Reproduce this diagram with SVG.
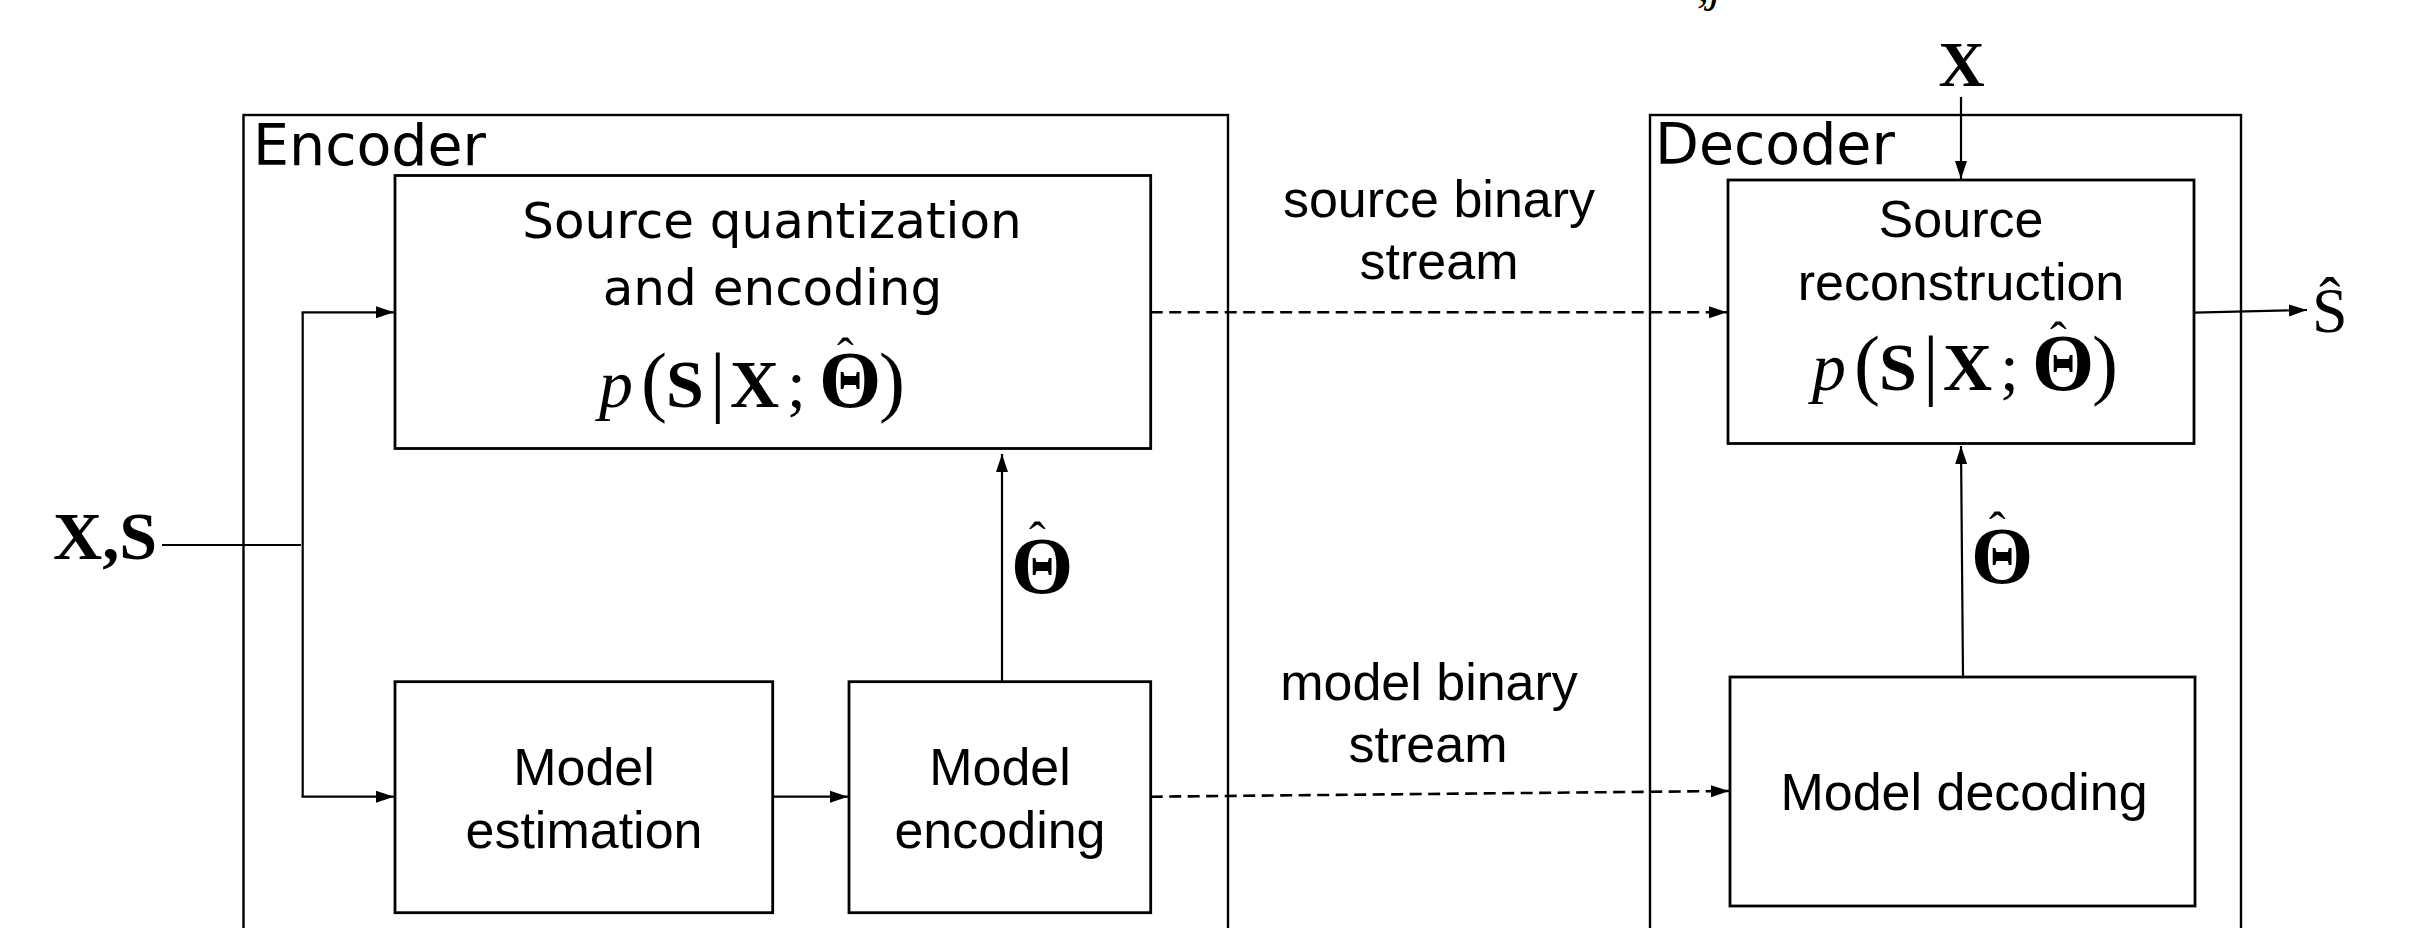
<svg xmlns="http://www.w3.org/2000/svg" width="2411" height="928" viewBox="0 0 2411 928">
  <style>
    .frame { fill: none; stroke: #000; stroke-width: 2.4; }
    .block { fill: #fff; stroke: #000; stroke-width: 2.8; }
    .wire { fill: none; stroke: #000; stroke-width: 2.2; }
    .dash { fill: none; stroke: #000; stroke-width: 2.6; stroke-dasharray: 12 6.5; }
    .title { font-family: "DejaVu Sans", sans-serif; font-size: 57px; fill: #000; }
    .dv { font-family: "DejaVu Sans", sans-serif; font-size: 50px; fill: #000; text-anchor: middle; }
    .lbl { font-family: "Liberation Sans", Arial, sans-serif; font-size: 52px; fill: #000; text-anchor: middle; }
    .math { font-family: "Liberation Serif", "Times New Roman", serif; font-size: 68px; fill: #000; }
    .bf { font-weight: bold; }
    .it { font-style: italic; }
    .big { font-size: 78px; }
    .theta { font-size: 80px; font-weight: bold; }
    .hat { font-size: 50px; font-weight: normal; }
  </style>
  <defs>
    <marker id="arrow" markerUnits="userSpaceOnUse" markerWidth="19" markerHeight="13" refX="18" refY="6.5" orient="auto">
      <path d="M0,0.5 L18,6.5 L0,12.5 z" fill="#000"/>
    </marker>
  </defs>
  <rect width="2411" height="928" fill="#fff"/>

  <!-- clipped subscript fragment at the top edge -->
  <text class="math it" x="1697" y="1" style="font-size:48px">,j</text>

  <!-- encoder frame -->
  <g id="encoder">
    <rect class="frame" x="243.5" y="115" width="984.5" height="840"/>
    <text class="title" x="253" y="165">Encoder</text>
  </g>

  <!-- decoder frame -->
  <g id="decoder">
    <rect class="frame" x="1650" y="115" width="591" height="840"/>
    <text class="title" x="1655" y="164">Decoder</text>
  </g>

  <g id="source-quantization">
    <rect class="block" x="395" y="175.5" width="755.7" height="273"/>
    <text class="dv" x="772" y="237.5">Source quantization</text>
    <text class="dv" x="772.5" y="305">and encoding</text>
    <text class="math">
      <tspan class="it" x="599" y="407">p</tspan><tspan class="big" x="641">(</tspan><tspan class="bf" x="666">S</tspan><tspan class="big" x="710">|</tspan><tspan class="bf" x="730">X</tspan><tspan x="787">;</tspan><tspan class="theta" x="819">Θ</tspan><tspan class="big" x="879">)</tspan><tspan class="hat" x="837" y="373">ˆ</tspan>
    </text>
  </g>

  <g id="model-estimation">
    <rect class="block" x="395" y="681.7" width="377.7" height="231"/>
    <text class="lbl" x="584" y="785">Model</text>
    <text class="lbl" x="584" y="848">estimation</text>
  </g>

  <g id="model-encoding">
    <rect class="block" x="849" y="681.7" width="301.7" height="231"/>
    <text class="lbl" x="1000" y="785">Model</text>
    <text class="lbl" x="1000" y="848">encoding</text>
  </g>

  <g id="source-reconstruction">
    <rect class="block" x="1728" y="180" width="466" height="263.5"/>
    <text class="lbl" x="1961" y="237">Source</text>
    <text class="lbl" x="1961" y="300">reconstruction</text>
    <text class="math">
      <tspan class="it" x="1812" y="390">p</tspan><tspan class="big" x="1854">(</tspan><tspan class="bf" x="1879">S</tspan><tspan class="big" x="1923">|</tspan><tspan class="bf" x="1943">X</tspan><tspan x="2000">;</tspan><tspan class="theta" x="2032">Θ</tspan><tspan class="big" x="2092">)</tspan><tspan class="hat" x="2050" y="357">ˆ</tspan>
    </text>
  </g>

  <g id="model-decoding">
    <rect class="block" x="1730" y="677" width="465" height="229"/>
    <text class="lbl" x="1964" y="810">Model decoding</text>
  </g>

  <!-- connectors -->
  <g id="connectors">
    <path class="wire" d="M162,545 H301"/>
    <path class="wire" d="M302.7,312 V797"/>
    <path class="wire" d="M301.6,312.3 H394" marker-end="url(#arrow)"/>
    <path class="wire" d="M301.6,796.7 H394" marker-end="url(#arrow)"/>
    <path class="wire" d="M772.7,796.7 H848" marker-end="url(#arrow)"/>
    <path class="wire" d="M1002,681.7 V454" marker-end="url(#arrow)"/>
    <path class="dash" d="M1150.7,312.3 H1727" marker-end="url(#arrow)"/>
    <path class="dash" d="M1150.7,796.7 L1729,791" marker-end="url(#arrow)"/>
    <path class="wire" d="M1961,97 V179" marker-end="url(#arrow)"/>
    <path class="wire" d="M1963,677 L1961,446" marker-end="url(#arrow)"/>
    <path class="wire" d="M2194,312.7 L2307,310" marker-end="url(#arrow)"/>
  </g>

  <!-- signal labels -->
  <g id="labels">
    <text class="math bf" x="53" y="559" textLength="104" lengthAdjust="spacingAndGlyphs">X,S</text>
    <text class="math bf" x="1961.5" y="86" text-anchor="middle" style="font-size:64px">X</text>
    <text class="math" x="2312" y="332" style="font-size:64px">Ŝ</text>
    <text class="math"><tspan class="theta" x="1011" y="593">Θ</tspan><tspan class="hat" x="1029" y="557">ˆ</tspan></text>
    <text class="math"><tspan class="theta" x="1971" y="583">Θ</tspan><tspan class="hat" x="1989" y="547">ˆ</tspan></text>
    <text class="lbl" x="1439" y="217">source binary</text>
    <text class="lbl" x="1439" y="279">stream</text>
    <text class="lbl" x="1429" y="700">model binary</text>
    <text class="lbl" x="1428" y="762">stream</text>
  </g>
</svg>
